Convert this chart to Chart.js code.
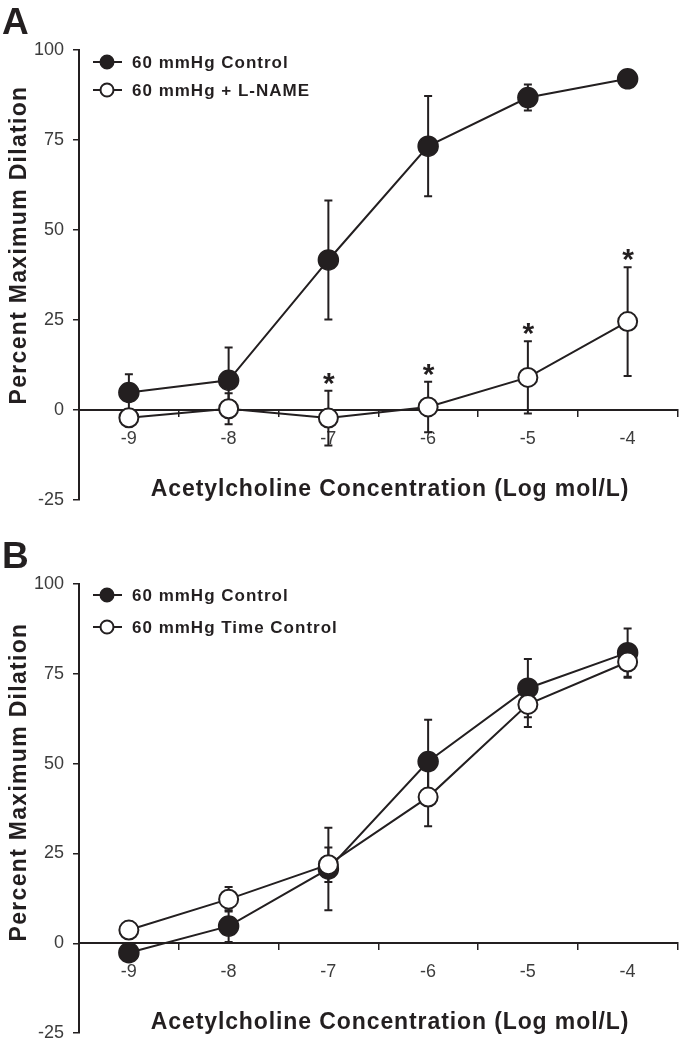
<!DOCTYPE html>
<html><head><meta charset="utf-8">
<script src="https://cdn.jsdelivr.net/npm/chart.js@4.4.1/dist/chart.umd.min.js"></script>
<style>html,body{margin:0;padding:0;background:#fff;} canvas{position:absolute;left:0;display:block}</style>
</head><body>
<canvas id="cA" width="689" height="520" style="top:0"></canvas>
<canvas id="cB" width="689" height="533" style="top:520px"></canvas>
<script>
const concentrations = ['-9', '-8', '-7', '-6', '-5', '-4'];
const yMin = -25, yMax = 100, yStep = 25;
// Panel A
const ctrlA = [4.9, 8.3, 41.7, 73.3, 86.8, 92.0];
const ctrlASem = [5.1, 9.1, 16.5, 13.9, 3.6, 1.5];
const lnameA = [-2.1, 0.4, -2.2, 0.9, 9.1, 24.6];
const lnameASem = [1.5, 4.3, 7.6, 7.0, 10.0, 15.1];
const lnameAStars = [false, false, true, true, true, true];
// Panel B
const ctrlB = [-2.6, 4.8, 20.7, 50.6, 71.0, 80.9];
const ctrlBSem = [1.5, 4.4, 11.5, 11.6, 8.1, 6.7];
const timeB = [3.7, 12.3, 21.9, 40.7, 66.5, 78.3];
const timeBSem = [2.3, 3.4, 4.8, 8.1, 6.3, 4.4];
const noStars = [false, false, false, false, false, false];

const seriesNamesA = ['60 mmHg Control', '60 mmHg + L-NAME'];
const seriesNamesB = ['60 mmHg Control', '60 mmHg Time Control'];
const xTitle = 'Acetylcholine Concentration (Log mol/L)';
const yTitle = 'Percent Maximum Dilation';

const INK = '#231f20';
const TICKINK = '#3c3c3c';
const FONT = "'Liberation Sans', Arial, Helvetica, sans-serif";

function makeDecor(cfg) {
  return {
    id: 'decor',
    beforeDatasetsDraw(chart) {
      const ctx = chart.ctx, xs = chart.scales.x, ys = chart.scales.y;
      ctx.save();
      ctx.strokeStyle = INK; ctx.lineWidth = 2; ctx.lineCap = 'butt';
      chart.data.datasets.forEach(ds => {
        ds.data.forEach((v, i) => {
          const s = ds.sem[i];
          const px = xs.getPixelForValue(i);
          const top = ys.getPixelForValue(v + s), bot = ys.getPixelForValue(v - s);
          ctx.beginPath();
          ctx.moveTo(px, top); ctx.lineTo(px, bot);
          ctx.moveTo(px - 4, top); ctx.lineTo(px + 4, top);
          ctx.moveTo(px - 4, bot); ctx.lineTo(px + 4, bot);
          ctx.stroke();
        });
      });
      ctx.restore();
    },
    afterDatasetsDraw(chart) {
      const ctx = chart.ctx, xs = chart.scales.x, ys = chart.scales.y;
      ctx.save();
      ctx.fillStyle = INK;
      // significance stars
      ctx.font = 'bold 30px ' + FONT;
      ctx.textAlign = 'center'; ctx.textBaseline = 'alphabetic';
      chart.data.datasets.forEach(ds => {
        ds.data.forEach((v, i) => {
          if (ds.stars && ds.stars[i]) {
            const px = xs.getPixelForValue(i);
            const top = ys.getPixelForValue(v + ds.sem[i]);
            ctx.fillText('*', px + 0.5, top + 2);
          }
        });
      });
      // legend
      ctx.strokeStyle = INK; ctx.lineWidth = 2;
      ctx.font = 'bold 17px ' + FONT;
      ctx.letterSpacing = '1px';
      ctx.textAlign = 'left'; ctx.textBaseline = 'middle';
      chart.data.datasets.forEach((ds, k) => {
        const yy = cfg.legendY[k];
        ctx.beginPath(); ctx.moveTo(93, yy); ctx.lineTo(122, yy); ctx.stroke();
        ctx.beginPath(); ctx.arc(107, yy, 6.5, 0, Math.PI * 2);
        ctx.fillStyle = ds.pointBackgroundColor; ctx.fill();
        ctx.lineWidth = 2; ctx.stroke();
        ctx.fillStyle = INK;
        ctx.fillText(ds.label, 132, yy + 1);
      });
      // axis titles
      ctx.font = 'bold 23px ' + FONT;
      ctx.letterSpacing = '0.9px';
      ctx.textAlign = 'center'; ctx.textBaseline = 'alphabetic';
      const y0 = ys.getPixelForValue(0);
      ctx.fillText(xTitle, 390, y0 + 86);
      ctx.letterSpacing = '1.3px';
      ctx.save();
      ctx.translate(26, cfg.yTitleY);
      ctx.rotate(-Math.PI / 2);
      ctx.fillText(yTitle, 0, 0);
      ctx.restore();
      // panel letter
      ctx.letterSpacing = '0px';
      ctx.font = 'bold 37px ' + FONT;
      ctx.textAlign = 'left';
      ctx.fillText(cfg.letter, 2, cfg.letterY);
      ctx.restore();
    }
  };
}

function makeChart(id, names, a, aSem, aStars, b, bSem, bStars, padTop, padBottom, cfg) {
  return new Chart(document.getElementById(id), {
    type: 'line',
    data: {
      labels: concentrations,
      datasets: [
        { label: names[0], data: a, sem: aSem, stars: aStars, order: 2,
          borderColor: INK, borderWidth: 2, pointRadius: 10, pointBorderWidth: 1.5,
          pointBackgroundColor: INK, pointBorderColor: INK, tension: 0, fill: false },
        { label: names[1], data: b, sem: bSem, stars: bStars, order: 1,
          borderColor: INK, borderWidth: 2, pointRadius: 9.5, pointBorderWidth: 2,
          pointBackgroundColor: '#ffffff', pointBorderColor: INK, tension: 0, fill: false }
      ]
    },
    options: {
      responsive: false, animation: false, events: [],
      layout: { padding: { left: 0, right: 1, top: padTop, bottom: padBottom } },
      plugins: { legend: { display: false }, tooltip: { enabled: false } },
      scales: {
        x: {
          type: 'category', offset: true, position: { y: 0 },
          grid: { offset: true, drawOnChartArea: false, drawTicks: true, tickLength: 6, color: INK, lineWidth: 1.5 },
          border: { display: true, color: INK, width: 2 },
          ticks: { color: TICKINK, font: { family: FONT, size: 18 }, padding: 12, maxRotation: 0 }
        },
        y: {
          min: yMin, max: yMax,
          afterFit(s) { s.width = 79; },
          grid: { drawOnChartArea: false, drawTicks: true, tickLength: 6, color: INK, lineWidth: 1.5 },
          border: { display: true, color: INK, width: 2 },
          ticks: { stepSize: yStep, color: TICKINK, font: { family: FONT, size: 18 }, padding: 9 }
        }
      }
    },
    plugins: [makeDecor(cfg)]
  });
}

makeChart('cA', seriesNamesA, ctrlA, ctrlASem, noStars, lnameA, lnameASem, lnameAStars, 50, 14,
  { letter: 'A', letterY: 34, legendY: [62, 90], yTitleY: 245 });
makeChart('cB', seriesNamesB, ctrlB, ctrlBSem, noStars, timeB, timeBSem, noStars, 64, 15,
  { letter: 'B', letterY: 48, legendY: [75, 107], yTitleY: 262 });
</script>
</body></html>
